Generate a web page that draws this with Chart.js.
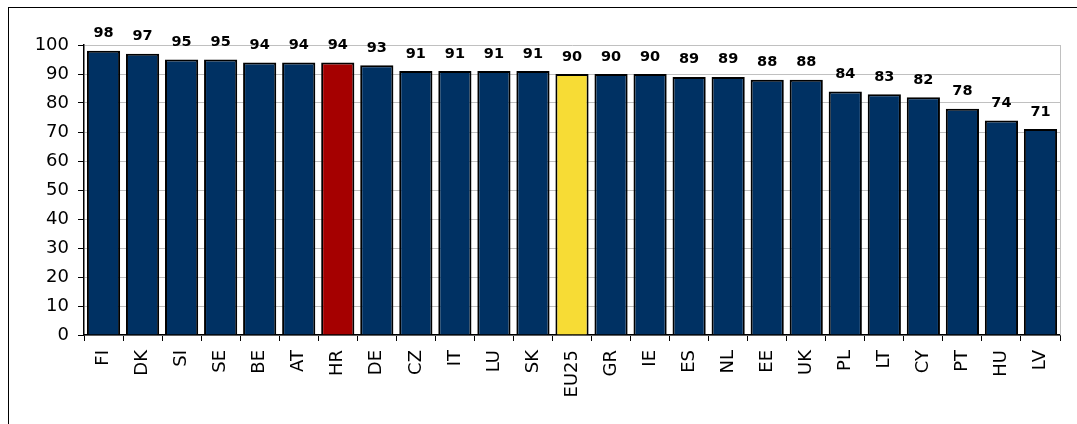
<!DOCTYPE html>
<html>
<head>
<meta charset="utf-8">
<script src="https://cdn.jsdelivr.net/npm/chart.js@4/dist/chart.umd.min.js"></script>
<style>
  html, body { margin: 0; padding: 0; background: #fff; }
  #wrap { position: relative; width: 1077px; height: 424px; overflow: hidden; }
  #frame { position: absolute; left: 8px; top: 7px; width: 1200px; height: 600px;
           border: 1px solid #000; box-sizing: border-box; pointer-events: none; }
  canvas { position: absolute; left: 0; top: 0; }
</style>
</head>
<body>
<div id="wrap">
  <canvas id="chart" width="1077" height="424"></canvas>
  <div id="frame"></div>
</div>
<script>
// Countries, sorted by score
const categories = ["FI","DK","SI","SE","BE","AT","HR","DE","CZ","IT","LU","SK","EU25",
                    "GR","IE","ES","NL","EE","UK","PL","LT","CY","PT","HU","LV"];
const values = [98,97,95,95,94,94,94,93,91,91,91,91,90,90,90,89,89,88,88,84,83,82,78,74,71];
const yTicks = [0,10,20,30,40,50,60,70,80,90,100];

const NAVY = "#003163", RED = "#a50000", GOLD = "#f7dc35";
const barColors = categories.map(c => c === "HR" ? RED : (c === "EU25" ? GOLD : NAVY));

// Value labels above each bar, plus the light frame on the right side of the plot
const valueLabels = {
  id: "valueLabels",
  afterDatasetsDraw(chart) {
    const ctx = chart.ctx;
    const meta = chart.getDatasetMeta(0);
    ctx.save();
    ctx.font = "bold 14.5px 'DejaVu Sans', Verdana, sans-serif";
    ctx.fillStyle = "#000";
    ctx.textAlign = "center";
    ctx.textBaseline = "bottom";
    meta.data.forEach((bar, i) => {
      ctx.fillText(String(values[i]), bar.x, bar.y - 10);
    });
    ctx.restore();
  },
  beforeDatasetsDraw(chart) {
    const { ctx, chartArea } = chart;
    ctx.save();
    ctx.strokeStyle = "#c0c0c0";
    ctx.lineWidth = 1;
    ctx.beginPath();
    ctx.moveTo(Math.round(chartArea.right) + 0.5, chartArea.top);
    ctx.lineTo(Math.round(chartArea.right) + 0.5, chartArea.bottom);
    ctx.stroke();
    ctx.restore();
  }
};

new Chart(document.getElementById("chart"), {
  type: "bar",
  data: {
    labels: categories,
    datasets: [{
      data: values,
      backgroundColor: barColors,
      borderColor: "#000",
      borderWidth: 2,
      barPercentage: 0.85,
      categoryPercentage: 1.0
    }]
  },
  options: {
    responsive: false,
    animation: false,
    devicePixelRatio: 1,
    layout: { padding: { left: 0, right: 17, top: 45, bottom: 0 } },
    plugins: { legend: { display: false }, tooltip: { enabled: false } },
    scales: {
      x: {
        offset: true,
        grid: { offset: true, drawOnChartArea: false, tickLength: 6, tickColor: "#000", lineWidth: 1 },
        border: { color: "#000", width: 1.5 },
        ticks: {
          color: "#000",
          font: { family: "'DejaVu Sans', Verdana, sans-serif", size: 18 },
          minRotation: 90, maxRotation: 90, autoSkip: false, padding: 9
        },
        afterFit(scale) { scale.height = 89; }
      },
      y: {
        min: 0, max: 100,
        afterBuildTicks(scale) { scale.ticks = yTicks.map(v => ({ value: v })); },
        grid: { color: "#c0c0c0", lineWidth: 1, tickLength: 6, tickColor: "#000" },
        border: { color: "#000", width: 1.5 },
        ticks: {
          color: "#000",
          font: { family: "'DejaVu Sans', Verdana, sans-serif", size: 18 },
          padding: 9
        },
        afterFit(scale) { scale.width = 84; }
      }
    }
  },
  plugins: [valueLabels]
});
</script>
</body>
</html>
